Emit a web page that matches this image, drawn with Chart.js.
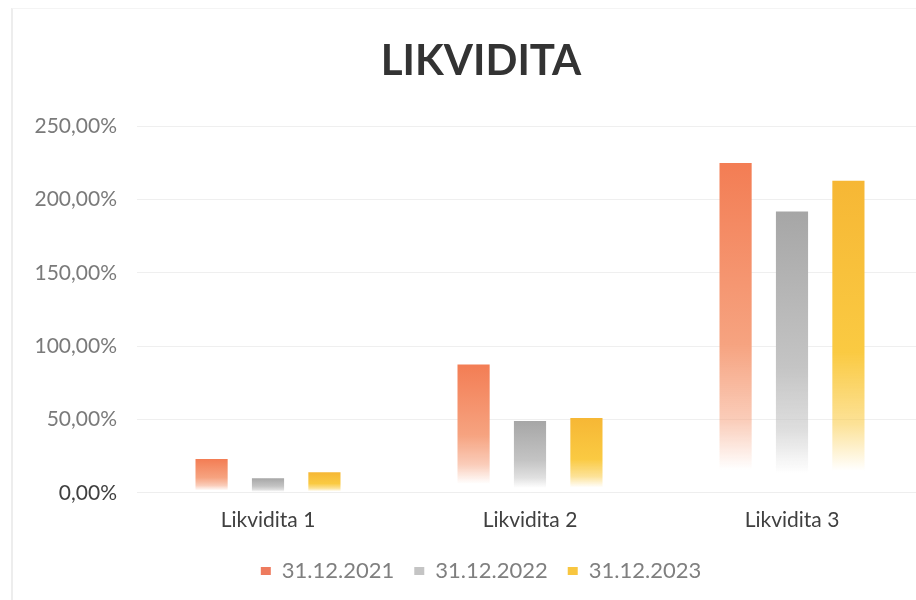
<!DOCTYPE html>
<html>
<head>
<meta charset="utf-8">
<script src="https://cdn.jsdelivr.net/npm/chart.js@4/dist/chart.umd.min.js"></script>
<style>
  html, body { margin: 0; padding: 0; background: #fff; }
  #wrap { position: relative; width: 916px; height: 600px; overflow: hidden; }
  #frame { position: absolute; left: 11px; top: 8px; width: 905px; height: 592px;
           border-left: 2px solid #ededed; border-top: 1px solid #f4f4f4; }
  canvas { position: absolute; left: 0; top: 0; }
</style>
</head>
<body>
<div id="wrap">
  <div id="frame"></div>
  <canvas id="myChart" width="962" height="600"></canvas>
</div>
<script>
const categories = ["Likvidita 1", "Likvidita 2", "Likvidita 3"];
const seriesNames = ["31.12.2021", "31.12.2022", "31.12.2023"];
const values2021 = [23, 87.5, 225];
const values2022 = [10, 49, 192];
const values2023 = [14, 51, 213];

// [r, g, b] at bar top and further down the bar
const topColors = [[243, 125, 84], [166, 166, 166], [246, 183, 53]];
const midColors = [[246, 163, 128], [196, 196, 196], [250, 202, 66]];
const legendColors = ["#ee7b5e", "#c4c4c4", "#f8c640"];

const fontFamily = "Lato, 'Open Sans', sans-serif";

function rgba(c, a) {
    return "rgba(" + c[0] + "," + c[1] + "," + c[2] + "," + a + ")";
}

function barFill(i) {
    return (ctx) => {
        let chart = ctx.chart;
        if (!chart.chartArea || ctx.type !== 'data') return rgba(topColors[i], 1);
        let y = chart.scales.y;
        let top = y.getPixelForValue(ctx.parsed.y);
        let bottom = y.getPixelForValue(0);
        let g = chart.ctx.createLinearGradient(0, top, 0, bottom);
        g.addColorStop(0, rgba(topColors[i], 1));
        g.addColorStop(0.55, rgba(midColors[i], 1));
        g.addColorStop(0.78, rgba(midColors[i], 0.55));
        g.addColorStop(0.93, rgba(midColors[i], 0));
        g.addColorStop(1, rgba(midColors[i], 0));
        return g;
    };
}

const seriesValues = [values2021, values2022, values2023];

const chart = new Chart(document.getElementById('myChart').getContext('2d'), {
    type: 'bar',
    data: {
        labels: categories,
        datasets: seriesNames.map((name, i) => ({
            label: name,
            data: seriesValues[i],
            backgroundColor: barFill(i),
            borderWidth: 0,
            categoryPercentage: 0.646,
            barPercentage: 0.57
        }))
    },
    options: {
        responsive: false,
        animation: false,
        layout: { padding: { left: 0, right: 0, top: 0, bottom: 8 } },
        plugins: {
            title: {
                display: true,
                text: 'LIKVIDITA',
                color: '#333333',
                font: { family: fontFamily, size: 42, weight: 'bold' },
                padding: { top: 36, bottom: 40 }
            },
            legend: {
                position: 'bottom',
                labels: {
                    boxWidth: 10,
                    boxHeight: 8,
                    padding: 20,
                    color: '#7f7f7f',
                    font: { family: fontFamily, size: 22 },
                    generateLabels: (c) => {
                        let items = Chart.defaults.plugins.legend.labels.generateLabels(c);
                        items.forEach((it, i) => { it.fillStyle = legendColors[i]; it.strokeStyle = legendColors[i]; it.lineWidth = 0; });
                        return items;
                    }
                }
            },
            tooltip: { enabled: false }
        },
        scales: {
            x: {
                grid: { display: false },
                border: { display: true, color: '#eeeeee' },
                ticks: {
                    color: '#404040',
                    font: { family: fontFamily, size: 21 },
                    padding: 7
                }
            },
            y: {
                min: 0,
                max: 250,
                afterFit: (scale) => { scale.width = 137; },
                grid: { color: '#efefef', drawTicks: false },
                border: { display: false },
                ticks: {
                    stepSize: 50,
                    padding: 20,
                    color: (ctx) => ctx.tick.value === 0 ? '#404040' : '#7a7a7a',
                    font: { family: fontFamily, size: 21 },
                    callback: (v) => v.toFixed(2).replace('.', ',') + '%'
                }
            },
            // empty right axis: keeps the plot narrower than the title/legend box
            spacer: {
                position: 'right',
                afterFit: (scale) => { scale.width = 39; },
                grid: { display: false },
                border: { display: false },
                ticks: { display: false }
            }
        }
    }
});
</script>
</body>
</html>
